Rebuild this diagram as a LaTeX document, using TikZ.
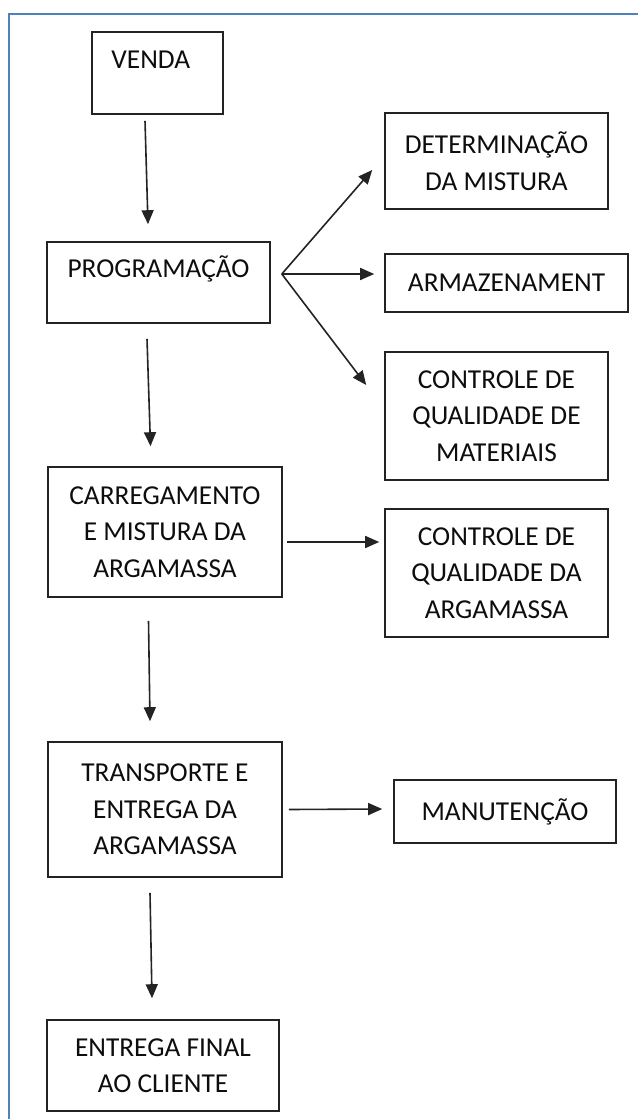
\documentclass[tikz,border=0pt]{standalone}
\usepackage{fontspec}
\setmainfont{Carlito}
\usetikzlibrary{arrows.meta,calc}
\definecolor{quadro}{RGB}{79,129,189}
\definecolor{traco}{RGB}{35,35,35}
\tikzset{
  caixa/.style={draw=traco, line width=1.2pt, align=center, inner sep=0pt,
    text=black!95, font=\fontsize{20.5}{27.4}\selectfont},
  topo/.style={text height=13pt, text depth=20pt},
  seta/.style={draw=traco, line width=1.2pt, -{Triangle[length=10.5pt,width=9pt]}},
}

\begin{document}
\begin{tikzpicture}[x=0.75pt,y=-0.75pt]
	\useasboundingbox (0,0) rectangle (638,1119);
	\draw[quadro, line width=1.2pt] (9,1119) -- (9,14) -- (638,14);

	% coluna principal
	\node[caixa, topo, minimum width=98.25pt, minimum height=61.5pt] (venda) at (157.5,73) {VENDA\hspace{10pt}};
	\node[caixa, topo, minimum width=167.25pt, minimum height=60.75pt] (prog) at (158.5,282.5) {PROGRAMAÇÃO};
	\node[caixa, minimum width=175.5pt, minimum height=97.5pt] (carreg) at (165,532) {CARREGAMENTO\\E MISTURA DA\\ARGAMASSA};
	\node[caixa, minimum width=175.5pt, minimum height=101.25pt] (transp) at (165,809.5) {TRANSPORTE E\\ENTREGA DA\\ARGAMASSA};
	\node[caixa, minimum width=174pt, minimum height=68.25pt] (entrega) at (163,1065.5) {ENTREGA FINAL\\AO CLIENTE};

	% coluna da direita
	\node[caixa, minimum width=167.25pt, minimum height=72pt] (mistura) at (496.5,161) {DETERMINAÇÃO\\DA MISTURA};
	\node[caixa, minimum width=182.25pt, minimum height=43.5pt] (armaz) at (506.5,283) {ARMAZENAMENT};
	\node[caixa, minimum width=167.25pt, minimum height=96pt] (materiais) at (496.5,416) {CONTROLE DE\\QUALIDADE DE\\MATERIAIS};
	\node[caixa, minimum width=167.25pt, minimum height=96pt] (ctrlarg) at (496.5,573) {CONTROLE DE\\QUALIDADE DA\\ARGAMASSA};
	\node[caixa, minimum width=166.5pt, minimum height=47.25pt] (manut) at (505,811.5) {MANUTENÇÃO};

	% setas verticais
	\draw[seta] ($(venda.south)+(-12.5,6)$) -- ($(prog.north)+(-10.5,-17)$);
	\draw[seta] ($(prog.south)+(-11.5,15)$) -- ($(carreg.north)+(-14.5,-20)$);
	\draw[seta] ($(carreg.south)+(-16.5,23)$) -- ($(transp.north)+(-15,-20)$);
	\draw[seta] ($(transp.south)+(-15,15)$) -- ($(entrega.north)+(-11,-21)$);

	% setas para a direita
	\coordinate (leque) at ($(prog.east)+(11,-8.5)$);
	\draw[seta] (leque) -- ($(mistura.west)+(-12,9)$);
	\draw[seta] (leque) -- ($(armaz.west)+(-10,-9)$);
	\draw[seta] (leque) -- ($(materiais.west)+(-18,-31)$);
	\draw[seta] ($(carreg.east)+(4,10)$) -- ($(ctrlarg.west)+(-5,-31)$);
	\draw[seta] ($(transp.east)+(6,0)$) -- ($(manut.west)+(-11,-2.5)$);
\end{tikzpicture}
\end{document}
